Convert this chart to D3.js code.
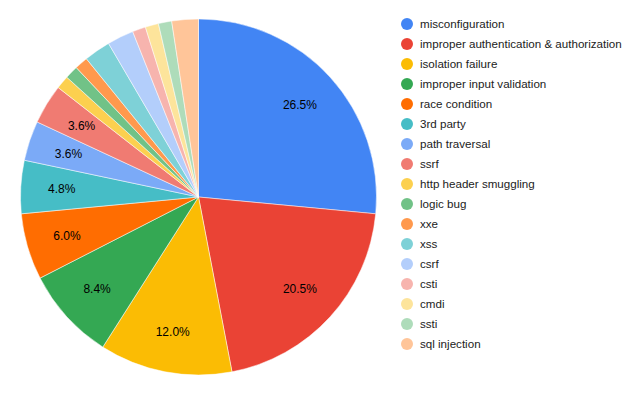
<!DOCTYPE html>
<html>
<head>
<meta charset="utf-8">
<script src="https://cdn.jsdelivr.net/npm/d3@7"></script>
<style>
    body { margin: 0; background: #fff; }
    text { font-family: "Liberation Sans", Arial, sans-serif; }
</style>
</head>
<body>
<div class="chart"></div>
<script>
// slice data (counts, read as share of 83)
let categories = ["misconfiguration", "improper authentication & authorization", "isolation failure",
    "improper input validation", "race condition", "3rd party", "path traversal", "ssrf",
    "http header smuggling", "logic bug", "xxe", "xss", "csrf", "csti", "cmdi", "ssti", "sql injection"];
let counts = [22, 17, 10, 7, 5, 4, 3, 3, 1, 1, 1, 2, 2, 1, 1, 1, 2];
let colors = ["#4285F4", "#EA4335", "#FBBC04", "#34A853", "#FF6D01", "#46BDC6", "#7BAAF7", "#F07B72",
    "#FCD04F", "#71C287", "#FF994D", "#7ED1D7", "#B3CEFB", "#F7B4AE", "#FDE49B", "#AEDCBA", "#FFC599"];

let data = categories.map((c, i) => ({group: c, value: counts[i], color: colors[i]}));
let total = d3.sum(counts);

let width = 640, height = 396;
let cx = 198.5, cy = 197, radius = 178;

let svg = d3.select(".chart")
    .append("svg")
    .attr("width", width)
    .attr("height", height);

let g = svg.append("g")
    .attr("transform", "translate(" + cx + "," + cy + ")");

let pie = d3.pie()
    .value(d => d.value)
    .sort(null);

let arc = d3.arc()
    .innerRadius(0)
    .outerRadius(radius);

let labelArc = d3.arc()
    .innerRadius(radius * 0.77)
    .outerRadius(radius * 0.77);

let arcs = pie(data);

g.selectAll("path")
    .data(arcs)
    .enter()
    .append("path")
    .attr("d", arc)
    .attr("fill", d => d.data.color)
    .attr("stroke", "#fff")
    .attr("stroke-width", 0.5);

// only the bigger slices get a label
g.selectAll(".slice-label")
    .data(arcs.filter(d => d.data.value / total >= 0.03))
    .enter()
    .append("text")
    .attr("class", "slice-label")
    .attr("transform", d => "translate(" + labelArc.centroid(d) + ")")
    .attr("dy", "0.35em")
    .style("text-anchor", "middle")
    .style("font-size", "12px")
    .attr("fill", "#000")
    .text(d => (d.data.value / total * 100).toFixed(1) + "%");

// legend
let legendY = d3.scaleBand()
    .domain(categories)
    .range([14, 14 + 20 * categories.length]);

let legend = svg.append("g")
    .selectAll("g")
    .data(data)
    .enter()
    .append("g")
    .attr("transform", d => "translate(407," + (legendY(d.group) + legendY.bandwidth() / 2) + ")");

legend.append("circle")
    .attr("r", 6)
    .attr("fill", d => d.color);

legend.append("text")
    .attr("x", 13)
    .attr("dy", "0.35em")
    .style("font-size", "11.6px")
    .attr("fill", "#222")
    .text(d => d.group);
</script>
</body>
</html>
